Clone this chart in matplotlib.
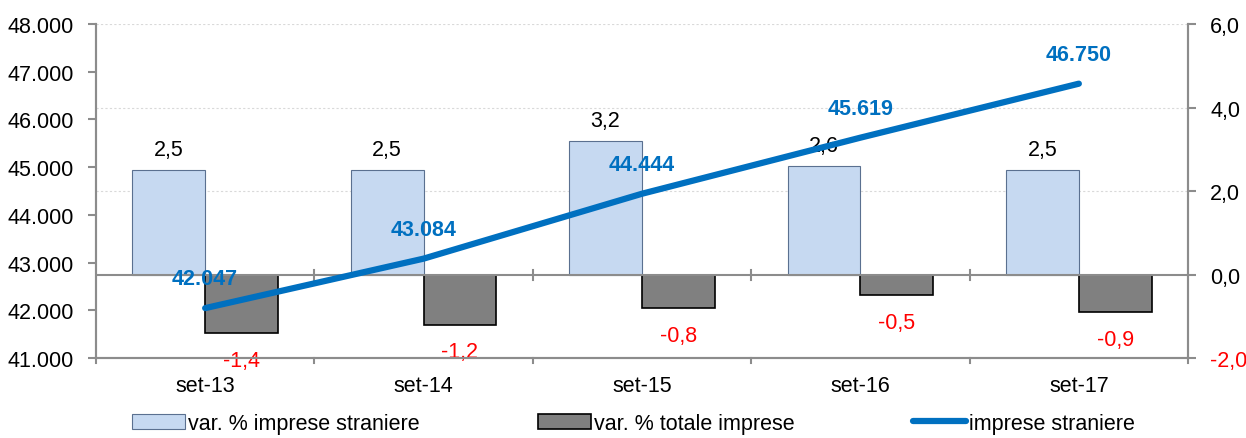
import matplotlib.pyplot as plt
from matplotlib.ticker import FuncFormatter

plt.rcParams['font.family'] = ['Liberation Sans', 'DejaVu Sans']

categorie = ['set-13', 'set-14', 'set-15', 'set-16', 'set-17']
var_straniere = [2.5, 2.5, 3.2, 2.6, 2.5]
var_totale = [-1.4, -1.2, -0.8, -0.5, -0.9]
imprese_straniere = [42047, 43084, 44444, 45619, 46750]

x = list(range(len(categorie)))
w = 1 / 3
grigio = '#8c8c8c'
fs = 15.5

fig = plt.figure(figsize=(12.46, 4.39), dpi=100)
ax = fig.add_axes([0.077, 0.182, 0.8765, 0.761])
ax2 = ax.twinx()

# bars on the percentage axis (right side)
b1 = ax.bar(x, var_straniere, width=-w, align='edge', color='#c6d9f1',
            edgecolor='#5a7090', linewidth=0.8, label='var. % imprese straniere', zorder=2)
b2 = ax.bar(x, var_totale, width=w, align='edge', color='#808080',
            edgecolor='black', linewidth=1.2, label='var. % totale imprese', zorder=2)
ax.set_ylim(-2, 6)
ax.set_xlim(-0.5, 4.5)
ax.yaxis.tick_right()
ax.set_yticks([-2, 0, 2, 4, 6])
ax.yaxis.set_major_formatter(FuncFormatter(lambda v, p: f'{v:.1f}'.replace('.', ',')))
for v in [2, 4, 6]:
    ax.axhline(v, color='#d9d9d9', linestyle=(0, (2, 2)), linewidth=0.8, zorder=0)
ax.axhline(0, color=grigio, linewidth=1.5, zorder=3)
for b in [0.5, 1.5, 2.5, 3.5]:
    ax.plot([b, b], [-0.12, 0.12], color=grigio, linewidth=1.5, zorder=3)

for i, v in enumerate(var_straniere):
    ax.text(i - w / 2, v + 0.25, f'{v:.1f}'.replace('.', ','), ha='center', va='bottom',
            fontsize=fs, color='black')
for i, v in enumerate(var_totale):
    ax.text(i + w / 2, v - 0.4, f'{v:.1f}'.replace('.', ','), ha='center', va='top',
            fontsize=fs, color='red')

ax.set_xticks(x)
ax.set_xticklabels(categorie, fontsize=fs)
ax.tick_params(axis='x', length=0, pad=12)
ax.tick_params(axis='y', labelsize=fs, length=6, color=grigio, width=1.5, pad=10)
fig.canvas.draw()
for lab in ax.get_yticklabels():
    if lab.get_text().startswith('-'):
        lab.set_color('red')
for b in [-0.5, 0.5, 1.5, 2.5, 3.5, 4.5]:
    ax.plot([b, b], [-2, -2.12], color=grigio, linewidth=1.5, clip_on=False, zorder=3)

# line on the count axis (left side), drawn on top
ax2.yaxis.tick_left()
ln, = ax2.plot(x, imprese_straniere, color='#0070c0', linewidth=4.5,
               solid_capstyle='round', label='imprese straniere', zorder=4)
ax2.set_ylim(41000, 48000)
ax2.yaxis.set_major_formatter(FuncFormatter(lambda v, p: f'{int(v):,}'.replace(',', '.')))
ax2.tick_params(axis='y', labelsize=fs, length=6, color=grigio, width=1.5, pad=10)
for i, v in enumerate(imprese_straniere):
    ax2.text(i, v + 400, f'{v:,}'.replace(',', '.'), ha='center', va='bottom',
             fontsize=fs, color='#0070c0', fontweight='bold')

for a in (ax, ax2):
    a.spines['top'].set_visible(False)
    for s in ['left', 'right', 'bottom']:
        a.spines[s].set_color(grigio)
        a.spines[s].set_linewidth(1.5)

fig.legend(handles=[b1, b2, ln], loc='lower center', bbox_to_anchor=(0.508, -0.035),
           ncol=3, frameon=False, fontsize=fs, columnspacing=5.5, handlelength=2.5,
           handletextpad=0.1)

fig.savefig('out.png', dpi=100)
